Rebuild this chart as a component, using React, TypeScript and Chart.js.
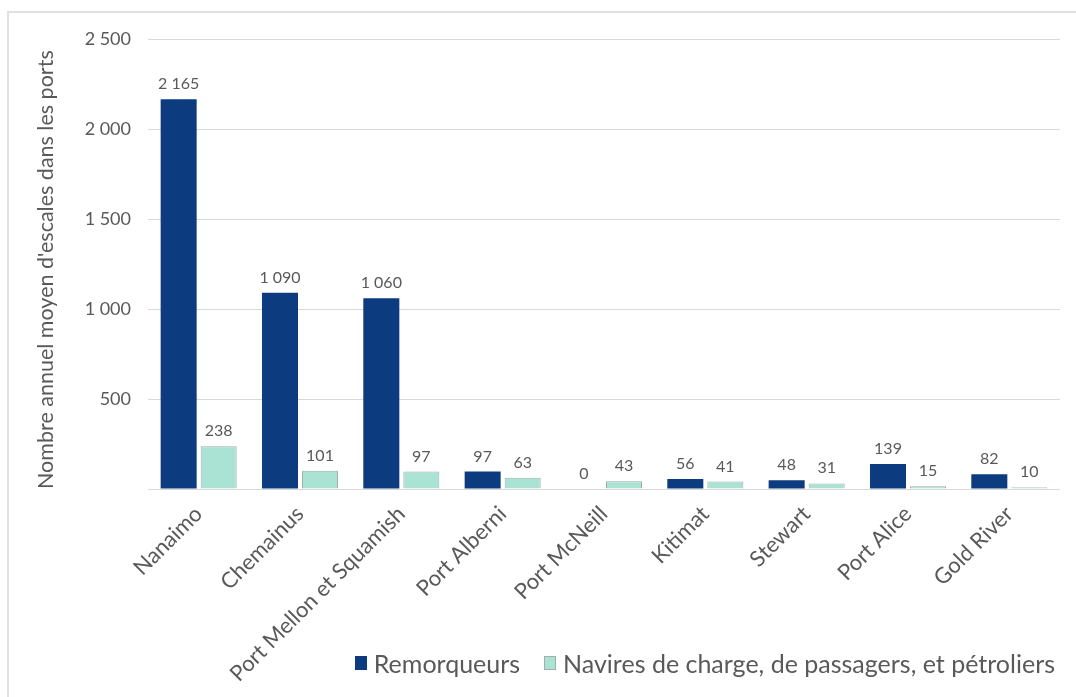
import React, { useEffect, useRef } from "react";
import { Chart, registerables } from "chart.js";

Chart.register(...registerables);

const categories = [
  "Nanaimo",
  "Chemainus",
  "Port Mellon et Squamish",
  "Port Alberni",
  "Port McNeill",
  "Kitimat",
  "Stewart",
  "Port Alice",
  "Gold River",
];
const remorqueurs = [2165, 1090, 1060, 97, 0, 56, 48, 139, 82];
const navires = [238, 101, 97, 63, 43, 41, 31, 15, 10];
const seriesNames = ["Remorqueurs", "Navires de charge, de passagers, et pétroliers"];
const yTitle = "Nombre annuel moyen d'escales dans les ports";

const DARK = "#0c3c7f";
const LIGHT = "#aae3d4";
const LIGHT_BORDER = "#9fb0ab";
const TEXT = "#595959";
const GRID = "#d9d9d9";
const FONT = "Lato, 'Open Sans', sans-serif";

const fmt = (v: number) => String(v).replace(/\B(?=(\d{3})+(?!\d))/g, " ");

const valueLabels = {
  id: "valueLabels",
  afterDatasetsDraw(chart: any) {
    const ctx = chart.ctx;
    ctx.save();
    ctx.font = `16px ${FONT}`;
    ctx.fillStyle = TEXT;
    ctx.textAlign = "center";
    ctx.textBaseline = "alphabetic";
    chart.data.datasets.forEach((ds: any, di: number) => {
      const meta = chart.getDatasetMeta(di);
      meta.data.forEach((bar: any, i: number) => {
        ctx.fillText(fmt(ds.data[i]), bar.x, bar.y - 10);
      });
    });
    ctx.restore();
  },
};

export default function App() {
  const ref = useRef<HTMLCanvasElement | null>(null);
  useEffect(() => {
    if (!ref.current) return;
    const chart = new Chart(ref.current, {
      type: "bar",
      data: {
        labels: categories,
        datasets: [
          {
            label: seriesNames[0],
            data: remorqueurs,
            backgroundColor: DARK,
            borderWidth: 0,
            categoryPercentage: 0.79,
            barPercentage: 0.9,
          },
          {
            label: seriesNames[1],
            data: navires,
            backgroundColor: LIGHT,
            borderColor: LIGHT_BORDER,
            borderWidth: 1,
            categoryPercentage: 0.79,
            barPercentage: 0.9,
          },
        ],
      },
      options: {
        animation: false,
        responsive: false,
        maintainAspectRatio: false,
        layout: { padding: { left: 31, top: 39, right: 16, bottom: 0 } },
        plugins: {
          legend: { display: false },
          tooltip: { enabled: false },
        },
        scales: {
          x: {
            grid: { display: false },
            border: { display: false },
            ticks: {
              color: TEXT,
              font: { family: FONT, size: 22 },
              maxRotation: 45,
              minRotation: 45,
              padding: 4,
              autoSkip: false,
            },
            afterFit(scale: any) {
              scale.height = 697 - 489;
            },
          },
          y: {
            min: 0,
            max: 2500,
            border: { display: false },
            grid: { color: GRID, drawTicks: false, lineWidth: 1 },
            ticks: {
              stepSize: 500,
              padding: 17,
              color: TEXT,
              font: { family: FONT, size: 18 },
              callback: (v: any) => (v === 0 ? "" : fmt(Number(v))),
            },
            title: {
              display: true,
              text: yTitle,
              align: "start",
              color: TEXT,
              font: { family: FONT, size: 21.5 },
              padding: { top: 2, bottom: 2 },
            },
            afterFit(scale: any) {
              scale.width = 148 - 31;
            },
          },
        },
      },
      plugins: [valueLabels],
    });
    return () => chart.destroy();
  }, []);

  const marker = (bg: string, border?: string) => ({
    display: "inline-block",
    width: 12,
    height: 14,
    background: bg,
    border: border ? `1px solid ${border}` : "none",
    boxSizing: "border-box" as const,
    marginRight: 7,
  });

  return (
    <div style={{ position: "fixed", left: 0, top: 0, width: 1076, height: 697, overflow: "hidden", background: "#fff" }}>
      <div
        style={{
          position: "absolute",
          left: 7,
          top: 11,
          width: 1100,
          height: 720,
          borderLeft: "2px solid #e0e0e0",
          borderTop: "2px solid #e0e0e0",
        }}
      />
      <canvas ref={ref} width={1076} height={697} style={{ position: "absolute", left: 0, top: 0, width: 1076, height: 697 }} />
      <div
        style={{
          position: "absolute",
          right: 21,
          top: 648,
          display: "flex",
          alignItems: "center",
          fontFamily: FONT,
          fontSize: 25,
          color: TEXT,
          lineHeight: "30px",
          whiteSpace: "nowrap",
        }}
      >
        <span style={marker(DARK)} />
        <span style={{ marginRight: 24 }}>{seriesNames[0]}</span>
        <span style={marker(LIGHT, LIGHT_BORDER)} />
        <span>{seriesNames[1]}</span>
      </div>
    </div>
  );
}
